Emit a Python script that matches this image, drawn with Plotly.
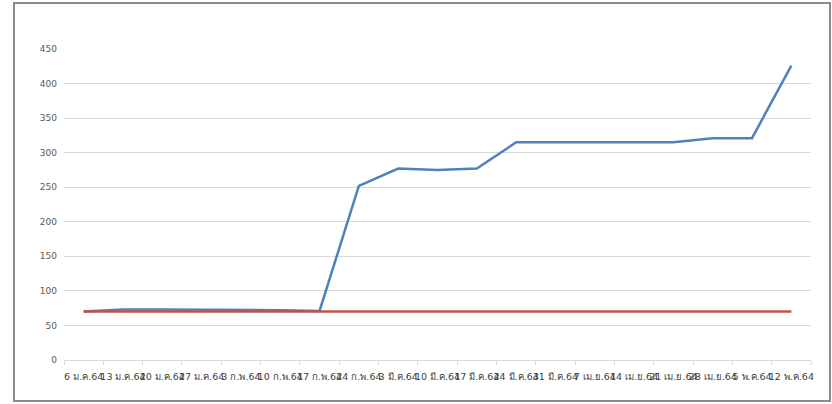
import plotly.graph_objects as go

dates = ["6 ม.ค.64", "13 ม.ค.64", "20 ม.ค.64", "27 ม.ค.64", "3 ก.พ.64", "10 ก.พ.64",
         "17 ก.พ.64", "24 ก.พ.64", "3 มี.ค.64", "10 มี.ค.64", "17 มี.ค.64", "24 มี.ค.64",
         "31 มี.ค.64", "7 เม.ย.64", "14 เม.ย.64", "21 เม.ย.64", "28 เม.ย.64", "5 พ.ค.64",
         "12 พ.ค.64"]
blue_values = [70, 73, 73, 73, 73, 72, 71, 252, 277, 275, 277, 315, 315, 315, 315, 315, 321, 321, 426]
red_values = [70] * 19
y_ticks = [0, 50, 100, 150, 200, 250, 300, 350, 400, 450]

W, H = 832, 404
L, R, T, B = 64, 21, 49, 44
pw, ph = W - L - R, H - T - B

fig = go.Figure()
fig.add_trace(go.Scatter(x=dates, y=blue_values, mode="lines",
                         line=dict(color="#4F81BD", width=2.5), showlegend=False))
fig.add_trace(go.Scatter(x=dates, y=red_values, mode="lines",
                         line=dict(color="#C0504D", width=2.5), showlegend=False))

def px_x(p):
    return (p - L) / pw

def px_y(p):
    return (H - B - p) / ph

fig.add_shape(type="rect", xref="paper", yref="paper",
              x0=px_x(14), x1=px_x(830), y0=px_y(401), y1=px_y(3),
              line=dict(color="#8C8C8C", width=2), fillcolor="rgba(0,0,0,0)", layer="below")

fig.update_layout(
    width=W, height=H,
    margin=dict(l=L, r=R, t=T, b=B, autoexpand=False),
    paper_bgcolor="white", plot_bgcolor="white",
    font=dict(family="Tahoma, DejaVu Sans, sans-serif", size=9, color="#595959"),
)
fig.update_xaxes(
    type="category", range=[-0.5, 18.5], tickangle=0,
    tickson="boundaries", ticks="outside", ticklen=4, tickcolor="#D9D9D9",
    showline=True, linecolor="#D9D9D9", linewidth=1, showgrid=False,
    tickfont=dict(size=9.5, color="#404040"), ticklabelstandoff=8,
)
fig.update_yaxes(
    range=[0, 450], tickvals=y_ticks, showgrid=True, gridcolor="#D9D9D9", gridwidth=1,
    zeroline=False, showline=False, ticks="", ticklabelstandoff=6,
    tickfont=dict(size=9, color="#595959"),
)

fig.write_html("out.html", config={"displayModeBar": False},
               post_script="document.body.style.margin='0';")
